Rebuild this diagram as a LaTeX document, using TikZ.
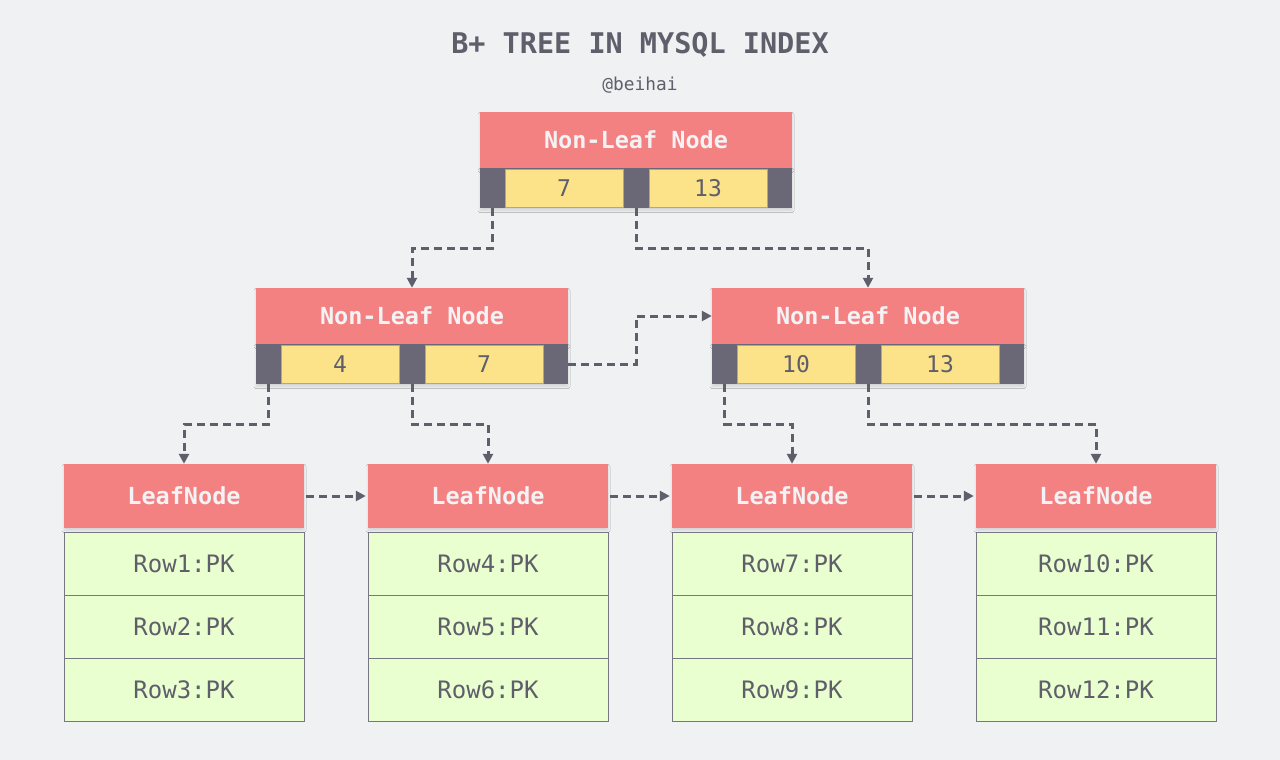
\documentclass[tikz,border=0pt]{standalone}
\usepackage{fontspec}
\setmonofont{DejaVu Sans Mono}
\usetikzlibrary{arrows.meta,shadows.blur,calc}
\definecolor{bg}{HTML}{F0F1F3}
\definecolor{hdr}{HTML}{F38181}
\definecolor{key}{HTML}{FCE38A}
\definecolor{row}{HTML}{EAFFD0}
\definecolor{ptr}{HTML}{6A6876}
\definecolor{ink}{HTML}{5F5E6B}
\definecolor{hdrtxt}{HTML}{F3F3F5}
\begin{document}
\begin{tikzpicture}[x=1pt,y=-1pt,
  shd/.style={blur shadow={shadow xshift=0pt,shadow yshift=-2.5pt,shadow blur steps=6,shadow blur radius=2pt,shadow opacity=12}},
  hdrbox/.style={fill=hdr,draw=none,inner sep=0pt,minimum height=56pt,text=hdrtxt,font=\ttfamily\bfseries\fontsize{23.5}{26}\selectfont,shd},
  leafhdr/.style={hdrbox,minimum width=240pt,minimum height=64pt},
  nlhdr/.style={hdrbox,minimum width=312pt},
  ptrbox/.style={fill=ptr,draw=none,inner sep=0pt,minimum height=40pt},
  keybox/.style={fill=key,draw=ptr!60,line width=0.6pt,inner sep=0pt,minimum width=118pt,minimum height=38pt,text=ink,font=\ttfamily\fontsize{23}{25}\selectfont},
  rowbox/.style={fill=row,draw=ink!85,line width=1pt,inner sep=0pt,minimum width=240pt,minimum height=63pt,text=ink,font=\ttfamily\fontsize{24}{26}\selectfont},
  link/.style={draw=ink,line width=3pt,dash pattern=on 8pt off 5pt,-{Triangle[length=10pt,width=10pt]}},
]
\useasboundingbox (0,0) rectangle (1280,760);
\fill[bg] (0,0) rectangle (1280,760);

\node[text=ink,font=\ttfamily\bfseries\fontsize{28.5}{32}\selectfont] (title) at (640,45) {B+ TREE IN MYSQL INDEX};
\node[text=ink,font=\ttfamily\fontsize{17.8}{20}\selectfont] (author) at (640,85) {@beihai};

% top node
\node[nlhdr] (th) at (636,140) {Non-Leaf Node};
\node[ptrbox,minimum width=312pt,shd] (trow) at (636,188) {};
\node[ptrbox,minimum width=25pt] (tp1) at (492.5,188) {};
\node[ptrbox,minimum width=26pt] (tp2) at (636,188) {};
\node[ptrbox,minimum width=25pt] (tp3) at (779.5,188) {};
\node[keybox] (tk1) at (564,188) {7};
\node[keybox] (tk2) at (708,188) {13};

% mid-left
\node[nlhdr] (mlh) at (412,316) {Non-Leaf Node};
\node[ptrbox,minimum width=312pt,shd] (mlrow) at (412,364) {};
\node[ptrbox,minimum width=25pt] (mlp1) at (268.5,364) {};
\node[ptrbox,minimum width=26pt] (mlp2) at (412,364) {};
\node[ptrbox,minimum width=25pt] (mlp3) at (555.5,364) {};
\node[keybox] (mlk1) at (340,364) {4};
\node[keybox] (mlk2) at (484,364) {7};

% mid-right
\node[nlhdr] (mrh) at (868,316) {Non-Leaf Node};
\node[ptrbox,minimum width=312pt,shd] (mrrow) at (868,364) {};
\node[ptrbox,minimum width=25pt] (mrp1) at (724.5,364) {};
\node[ptrbox,minimum width=26pt] (mrp2) at (868,364) {};
\node[ptrbox,minimum width=25pt] (mrp3) at (1011.5,364) {};
\node[keybox] (mrk1) at (796,364) {10};
\node[keybox] (mrk2) at (940,364) {13};

% leaves
\foreach \i/\cx/\a/\b/\c in {1/184/1/2/3, 2/488/4/5/6, 3/792/7/8/9, 4/1096/10/11/12}{
  \node[leafhdr] (l\i h) at (\cx,496) {LeafNode};
  \node[rowbox] (l\i r1) at (\cx,563.5) {Row\a:PK};
  \node[rowbox] (l\i r2) at (\cx,626.5) {Row\b:PK};
  \node[rowbox] (l\i r3) at (\cx,689.5) {Row\c:PK};
}

% connectors
\draw[link] (tp1.south) -- ++(0,40) -| (mlh.north);
\draw[link] (tp2.south) -- ++(0,40) -| (mrh.north);
\draw[link] (mlp1.south) -- ++(0,40) -| (l1h.north);
\draw[link] (mlp2.south) -- ++(0,40) -| (l2h.north);
\draw[link] (mrp1.south) -- ++(0,40) -| (l3h.north);
\draw[link] (mrp2.south) -- ++(0,40) -| (l4h.north);
\draw[link] (mlp3.east) -- ++(68,0) |- (mrh.west);
\draw[link,shorten <=2pt,shorten >=2pt] (l1h.east) -- (l2h.west);
\draw[link,shorten <=2pt,shorten >=2pt] (l2h.east) -- (l3h.west);
\draw[link,shorten <=2pt,shorten >=2pt] (l3h.east) -- (l4h.west);
\end{tikzpicture}
\end{document}
